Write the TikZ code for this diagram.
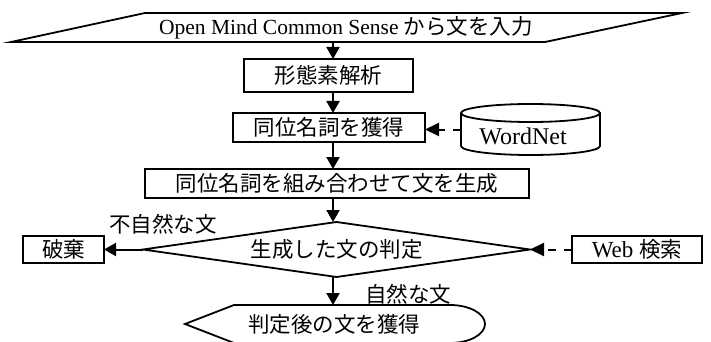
\documentclass[tikz,border=0pt]{standalone}
\usepackage{fontspec}
\setmainfont{Liberation Serif}
\newfontfamily\jp{Noto Sans CJK JP}
\usetikzlibrary{arrows.meta,shapes.geometric}
\begin{document}
\begin{tikzpicture}[x=1pt,y=-1pt,
  every node/.style={font=\fontsize{21.5}{24}\selectfont, inner sep=0pt, outer sep=0pt},
  outline/.style={draw, line width=1.8pt, line join=miter},
  procbox/.style={outline, rectangle},
  decision/.style={outline, diamond, aspect=7},
  lbl/.style={font=\fontsize{21.5}{24}\selectfont\jp},
  arr/.style={line width=2pt, -{Triangle[length=12pt,width=13pt]}},
  darr/.style={line width=2pt, dash pattern=on 8pt off 8pt, -{Triangle[length=14pt,width=13pt]}}]
\useasboundingbox (0,0) rectangle (711,342);
\coordinate (col) at (333,0);

% input parallelogram
\draw[outline] (145,13) -- (682,13) -- (545,42) -- (11,42) -- cycle;
\node[minimum height=29pt] (in) at (346,27.5) {Open Mind Common Sense {\jp から文を入力}};

% process boxes
\node[procbox, minimum width=169pt, minimum height=33pt] (b1) at (328.5,75.5) {\jp 形態素解析};
\node[procbox, minimum width=192pt, minimum height=29pt] (b2) at (329,127.5) {\jp 同位名詞を獲得};
\node[procbox, minimum width=384pt, minimum height=29pt] (b3) at (337,183.5) {\jp 同位名詞を組み合わせて文を生成};

% WordNet cylinder
\node[minimum width=139pt, minimum height=51pt] (wn) at (530.5,129.5) {};
\draw[outline] (461,113) -- (461,146)
  .. controls (461,151) and (492.1,155) .. (530.5,155)
  .. controls (568.9,155) and (600,151) .. (600,146) -- (600,113);
\draw[outline] (530.5,113) ellipse [x radius=69.5, y radius=9];
\node[font=\fontsize{24}{26}\selectfont] (wnt) at (523,136.5) {WordNet};

% decision
\node[decision, minimum width=387pt, minimum height=55pt] (dia) at (336.5,249.5) {\jp 生成した文の判定};

% side boxes
\node[procbox, minimum width=81pt, minimum height=27pt] (haki) at (63.5,249.5) {\jp 破棄};
\node[procbox, minimum width=130pt, minimum height=27pt] (web) at (637,249.5) {\fontsize{23}{25}\selectfont Web {\jp\fontsize{21.5}{24}\selectfont 検索}};

% output shape
\draw[outline] (185,324) -- (234,305) -- (450,305)
  .. controls (469.3,305) and (485,313.5) .. (485,324)
  .. controls (485,334.5) and (469.3,343) .. (450,343)
  -- (234,343) -- cycle;
\node[minimum height=38pt] (out) at (334,324) {\jp 判定後の文を獲得};

% labels
\node[lbl] (lno) at (163,224) {不自然な文};
\node[lbl] (lyes) at (408,294) {自然な文};

% connectors
\draw[arr] (in.south -| col) -- (b1.north -| col);
\draw[arr] (b1.south -| col) -- (b2.north -| col);
\draw[arr] (b2.south -| col) -- (b3.north -| col);
\draw[arr] (b3.south -| col) -- (dia.north -| col);
\draw[arr] (dia.south -| col) -- (out.north -| col);
\draw[arr] (dia.west) -- (haki.east);
\draw[darr] (wn.west) -- (wn.west -| b2.east);
\draw[darr] (web.west) -- (dia.east);
\end{tikzpicture}
\end{document}
